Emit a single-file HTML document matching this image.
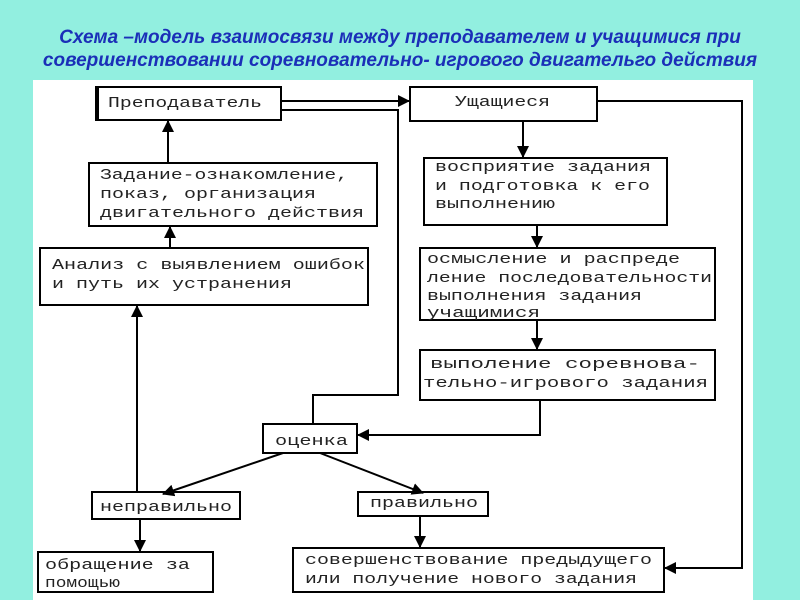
<!DOCTYPE html>
<html><head><meta charset="utf-8"><style>
html,body{margin:0;padding:0;width:800px;height:600px;overflow:hidden;background:#92efe0;}
.t{position:absolute;left:0;width:800px;text-align:center;font:italic bold 19px "Liberation Sans",sans-serif;line-height:22px;color:#1b2fb8;white-space:nowrap;}
svg{position:absolute;left:0;top:0}
svg text{font-family:"Liberation Mono",monospace;font-size:15px;fill:#222}
</style></head><body>
<div class="t" style="top:27px">Схема –модель взаимосвязи между преподавателем и учащимися при</div>
<div class="t" style="top:50px">совершенствовании соревновательно- игрового двигательго действия</div>
<svg width="800" height="600" viewBox="0 0 800 600">
<defs><marker id="a" markerWidth="12" markerHeight="12" refX="11" refY="6" orient="auto" markerUnits="userSpaceOnUse"><path d="M0,0 L12,6 L0,12z" fill="#000"/></marker></defs>
<rect x="33" y="80" width="720" height="520" fill="#fff"/>
<g fill="#fff" stroke="#000" stroke-width="2">
<rect x="97" y="87" width="184" height="33"/>
<rect x="89" y="163" width="288" height="63"/>
<rect x="40" y="248" width="328" height="57"/>
<rect x="410" y="87" width="187" height="34"/>
<rect x="424" y="158" width="243" height="67"/>
<rect x="420" y="248" width="295" height="72"/>
<rect x="420" y="350" width="295" height="50"/>
<rect x="263" y="424" width="94" height="29"/>
<rect x="92" y="492" width="148" height="27"/>
<rect x="358" y="492" width="130" height="24"/>
<rect x="38" y="552" width="175" height="40"/>
<rect x="293" y="548" width="371" height="44"/>
</g>
<line x1="97" y1="86" x2="97" y2="121" stroke="#000" stroke-width="4"/>
<g stroke="#000" stroke-width="2" fill="none">
<path d="M281,101 H409" marker-end="url(#a)"/>
<path d="M281,110 H398 V395 H313 V424"/>
<path d="M597,101 H742 V568 H665" marker-end="url(#a)"/>
<path d="M523,121 V157" marker-end="url(#a)"/>
<path d="M537,225 V247" marker-end="url(#a)"/>
<path d="M537,320 V349" marker-end="url(#a)"/>
<path d="M540,400 V435 H358" marker-end="url(#a)"/>
<path d="M283,453 L163,494" marker-end="url(#a)"/>
<path d="M320,453 L423,493" marker-end="url(#a)"/>
<path d="M140,519 V551" marker-end="url(#a)"/>
<path d="M420,516 V547" marker-end="url(#a)"/>
<path d="M137,492 V306" marker-end="url(#a)"/>
<path d="M170,248 V227" marker-end="url(#a)"/>
<path d="M168,163 V121" marker-end="url(#a)"/>
</g>
<text x="108" y="107" textLength="154" lengthAdjust="spacingAndGlyphs">Преподаватель</text>
<text x="100" y="179" textLength="248" lengthAdjust="spacingAndGlyphs">Задание-ознакомление,</text>
<text x="100" y="198" textLength="216" lengthAdjust="spacingAndGlyphs">показ, организация</text>
<text x="100" y="217" textLength="264" lengthAdjust="spacingAndGlyphs">двигательного действия</text>
<text x="52" y="269" textLength="313" lengthAdjust="spacingAndGlyphs">Анализ с выявлением ошибок</text>
<text x="52" y="288" textLength="240" lengthAdjust="spacingAndGlyphs">и путь их устранения</text>
<text x="455" y="106" textLength="95" lengthAdjust="spacingAndGlyphs">Ущащиеся</text>
<text x="435" y="171" textLength="216" lengthAdjust="spacingAndGlyphs">восприятие задания</text>
<text x="435" y="190" textLength="215" lengthAdjust="spacingAndGlyphs">и подготовка к его</text>
<text x="435" y="208" textLength="120" lengthAdjust="spacingAndGlyphs">выполнению</text>
<text x="427" y="263" textLength="253" lengthAdjust="spacingAndGlyphs">осмысление и распреде</text>
<text x="427" y="282" textLength="285" lengthAdjust="spacingAndGlyphs">ление последовательности</text>
<text x="427" y="300" textLength="215" lengthAdjust="spacingAndGlyphs">выполнения задания</text>
<text x="427" y="317" textLength="113" lengthAdjust="spacingAndGlyphs">учащимися</text>
<text x="430" y="368" textLength="270" lengthAdjust="spacingAndGlyphs">выполение соревнова-</text>
<text x="423" y="387" textLength="285" lengthAdjust="spacingAndGlyphs">тельно-игрового задания</text>
<text x="275" y="445" textLength="73" lengthAdjust="spacingAndGlyphs">оценка</text>
<text x="100" y="511" textLength="132" lengthAdjust="spacingAndGlyphs">неправильно</text>
<text x="370" y="507" textLength="108" lengthAdjust="spacingAndGlyphs">правильно</text>
<text x="45" y="569" textLength="145" lengthAdjust="spacingAndGlyphs">обращение за</text>
<text x="45" y="587" textLength="75" lengthAdjust="spacingAndGlyphs">помощью</text>
<text x="305" y="564" textLength="347" lengthAdjust="spacingAndGlyphs">совершенствование предыдущего</text>
<text x="305" y="583" textLength="332" lengthAdjust="spacingAndGlyphs">или получение нового задания</text>
</svg>
</body></html>
